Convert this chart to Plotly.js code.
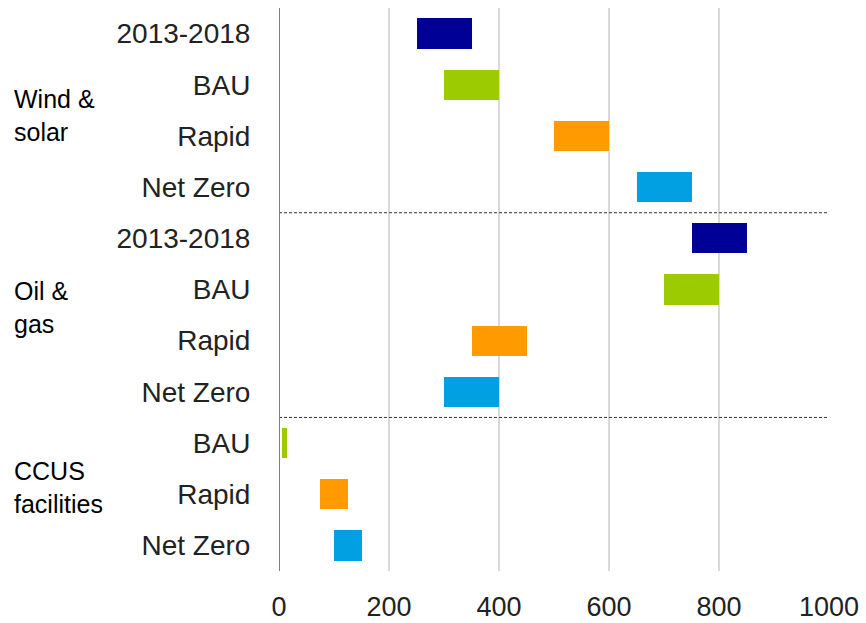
<!DOCTYPE html>
<html>
<head>
<meta charset="utf-8">
<script src="https://cdn.plot.ly/plotly-3.0.1.min.js"></script>
<style>html,body{margin:0;padding:0;background:#fff;}#chart{width:866px;height:623px;}</style>
</head>
<body>
<div id="chart"></div>
<script>
const rowLabels = ["2013-2018","BAU","Rapid","Net Zero","2013-2018","BAU","Rapid","Net Zero","BAU","Rapid","Net Zero"];
const groupNames = ["Wind &<br>solar","Oil &<br>gas","CCUS<br>facilities"];
const groupCenters = [1.6, 5.35, 8.86];
const scenarios = ["2013-2018","BAU","Rapid","Net Zero","2013-2018","BAU","Rapid","Net Zero","BAU","Rapid","Net Zero"];
const lowValues  = [250, 300, 500, 650, 750, 700, 350, 300, 5, 75, 100];
const highValues = [350, 400, 600, 750, 850, 800, 450, 400, 15, 125, 150];
const scenarioColors = {"2013-2018":"#000096","BAU":"#9bcb00","Rapid":"#ff9a00","Net Zero":"#00a0e2"};
const separators = [3.5, 7.5];
const xTicks = [0,200,400,600,800,1000];

const idx = rowLabels.map((_, i) => i);
const font = "Liberation Sans, Arial, sans-serif";

const trace = {
  type: "bar",
  orientation: "h",
  y: idx,
  x: idx.map(i => highValues[i] - lowValues[i]),
  base: lowValues,
  width: 0.59,
  marker: {color: scenarios.map(s => scenarioColors[s]), line: {width: 0}},
  hoverinfo: "skip"
};

const shapes = separators.map(s => ({
  type: "line", xref: "paper", x0: 0, x1: 1, yref: "y", y0: s, y1: s,
  line: {color: "#333", width: 1, dash: "3px,2px"}
}));
shapes.push({type: "line", xref: "x", x0: 0, x1: 0, yref: "paper", y0: 0, y1: 1,
  line: {color: "#7f7f7f", width: 2}});

const annotations = groupNames.map((g, i) => ({
  text: g, xref: "paper", x: -0.486, xanchor: "left", yref: "y", y: groupCenters[i],
  yanchor: "middle", align: "left", showarrow: false,
  font: {family: font, size: 25, color: "#000"}
}));

const layout = {
  width: 866, height: 623,
  margin: {l: 279, r: 37, t: 8, b: 52},
  paper_bgcolor: "#fff", plot_bgcolor: "#fff",
  showlegend: false,
  bargap: 0,
  xaxis: {
    range: [0, 1000], tickvals: xTicks, ticktext: xTicks.map(String),
    showgrid: true, gridcolor: "#d9d9d9", gridwidth: 2, zeroline: false,
    showline: false, ticks: "outside", ticklen: 12, tickcolor: "rgba(0,0,0,0)",
    tickfont: {family: font, size: 27, color: "#222"}, fixedrange: true
  },
  yaxis: {
    range: [10.5, -0.5], tickvals: idx, ticktext: rowLabels,
    showgrid: false, zeroline: false, showline: false,
    ticks: "outside", ticklen: 22, tickcolor: "rgba(0,0,0,0)",
    tickfont: {family: font, size: 28, color: "#222"}, fixedrange: true
  },
  shapes: shapes,
  annotations: annotations
};

Plotly.newPlot("chart", [trace], layout, {displayModeBar: false, staticPlot: true});
</script>
</body>
</html>
